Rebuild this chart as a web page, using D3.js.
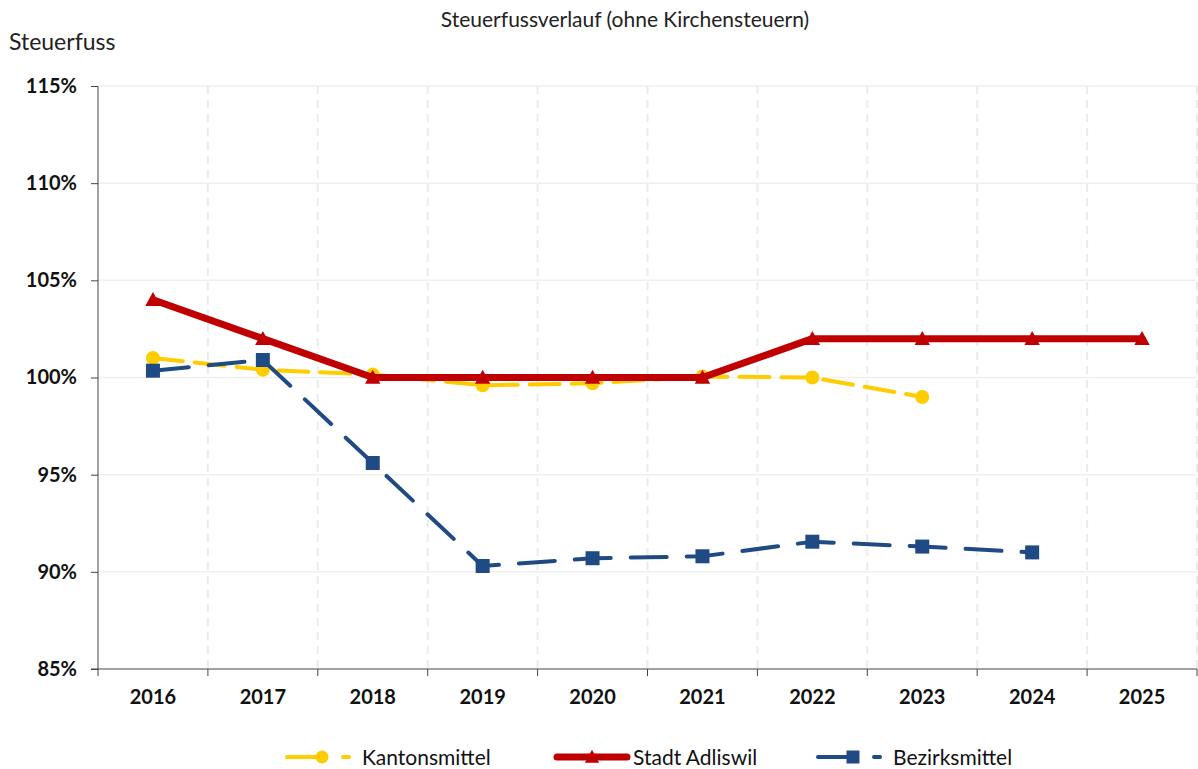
<!DOCTYPE html>
<html>
<head>
<meta charset="utf-8">
<script src="https://cdn.jsdelivr.net/npm/d3@7"></script>
<style>
  body { margin: 0; background: #fff; }
  svg, svg text { font-family: "Lato", "Open Sans", sans-serif; }
</style>
</head>
<body>
<div id="chart"></div>
<script>
// Data
const years = ["2016", "2017", "2018", "2019", "2020", "2021", "2022", "2023", "2024", "2025"];
const kantonsmittel = [101.0, 100.4, 100.15, 99.6, 99.7, 100.05, 100.0, 99.0, null, null];
const stadtAdliswil = [104, 102, 100, 100, 100, 100, 102, 102, 102, 102];
const bezirksmittel = [100.35, 100.9, 95.6, 90.3, 90.7, 90.8, 91.55, 91.3, 91.0, null];
const yTicks = [85, 90, 95, 100, 105, 110, 115];

const series = [
    { name: "Kantonsmittel", values: kantonsmittel, color: "#FFCC00", width: 4, dash: "30,12", marker: "circle" },
    { name: "Stadt Adliswil", values: stadtAdliswil, color: "#C00000", width: 7, dash: null, marker: "triangle" },
    { name: "Bezirksmittel", values: bezirksmittel, color: "#1F4A84", width: 4, dash: "36,20", marker: "square" }
];

const W = 1198, H = 769;
const margin = { top: 86, right: 1, bottom: 100, left: 98 };
const width = W - margin.left - margin.right;
const height = H - margin.top - margin.bottom;

const svg = d3.select("#chart")
    .append("svg")
    .attr("width", W)
    .attr("height", H);

const g = svg.append("g")
    .attr("transform", `translate(${margin.left},${margin.top})`);

const x = d3.scaleBand()
    .domain(years)
    .range([0, width]);

const y = d3.scaleLinear()
    .domain([85, 115])
    .range([height, 0]);

// Horizontal gridlines
g.selectAll(".hgrid")
    .data(yTicks.slice(1))
    .enter()
    .append("line")
    .attr("x1", 0)
    .attr("x2", width)
    .attr("y1", d => y(d))
    .attr("y2", d => y(d))
    .attr("stroke", "#EFEFEF")
    .attr("stroke-width", 1.5);

// Vertical dashed gridlines at category borders
g.selectAll(".vgrid")
    .data(years.slice(1).concat(["end"]))
    .enter()
    .append("line")
    .attr("x1", (d, i) => x.step() * (i + 1))
    .attr("x2", (d, i) => x.step() * (i + 1))
    .attr("y1", 0)
    .attr("y2", height)
    .attr("stroke", "#EBEBEB")
    .attr("stroke-width", 2)
    .attr("stroke-dasharray", "8,6");

// Y-axis
const yAxis = g.append("g")
    .call(d3.axisLeft(y)
        .tickValues(yTicks)
        .tickSize(7)
        .tickPadding(14)
        .tickFormat(d => `${d}%`));
yAxis.attr("font-family", null);
yAxis.select(".domain").attr("stroke", "#444").attr("d", `M-7,0.5H0V${height}`);
yAxis.selectAll(".tick line").attr("stroke", "#444");
yAxis.selectAll("text")
    .attr("font-size", 20)
    .attr("font-weight", "bold")
    .attr("fill", "#111");

// X-axis: ticks at category borders
const xAxis = g.append("g")
    .attr("transform", `translate(0,${height})`);
xAxis.append("line")
    .attr("x1", -7).attr("x2", width)
    .attr("stroke", "#444");
xAxis.selectAll(".xtick")
    .data(d3.range(years.length + 1))
    .enter()
    .append("line")
    .attr("x1", d => x.step() * d)
    .attr("x2", d => x.step() * d)
    .attr("y1", 0)
    .attr("y2", 7)
    .attr("stroke", "#444");
xAxis.selectAll("text")
    .data(years)
    .enter()
    .append("text")
    .attr("x", d => x(d) + x.bandwidth() / 2)
    .attr("y", 35)
    .attr("text-anchor", "middle")
    .attr("font-size", 20)
    .attr("font-weight", "bold")
    .attr("fill", "#111")
    .text(d => d);

const cx = d => x(d) + x.bandwidth() / 2;

function drawMarker(sel, type, color, size) {
    if (type === "circle") {
        sel.append("circle").attr("r", size / 2).attr("fill", color);
    } else if (type === "triangle") {
        sel.append("path")
            .attr("d", `M0,${-size * 0.55}L${size * 0.55},${size * 0.45}L${-size * 0.55},${size * 0.45}Z`)
            .attr("fill", color);
    } else {
        sel.append("rect")
            .attr("x", -size / 2).attr("y", -size / 2)
            .attr("width", size).attr("height", size)
            .attr("fill", color);
    }
}

// Lines and markers
series.forEach(s => {
    const pts = years.map((yr, i) => ({ yr, v: s.values[i] })).filter(d => d.v !== null);
    const line = d3.line()
        .x(d => cx(d.yr))
        .y(d => y(d.v));
    g.append("path")
        .datum(pts)
        .attr("d", line)
        .attr("fill", "none")
        .attr("stroke", s.color)
        .attr("stroke-width", s.width)
        .attr("stroke-linecap", "round")
        .attr("stroke-linejoin", "round")
        .attr("stroke-dasharray", s.dash);
    pts.forEach(d => {
        const m = g.append("g").attr("transform", `translate(${cx(d.yr)},${y(d.v)})`);
        drawMarker(m, s.marker, s.color, 14);
    });
});

// Title and axis label
svg.append("text")
    .attr("x", 625)
    .attr("y", 27)
    .attr("text-anchor", "middle")
    .attr("font-size", 21)
    .attr("fill", "#222")
    .text("Steuerfussverlauf (ohne Kirchensteuern)");

svg.append("text")
    .attr("x", 9)
    .attr("y", 50)
    .attr("font-size", 23)
    .attr("fill", "#222")
    .text("Steuerfuss");

// Legend
const legendX = [287, 555, 818];
const legend = svg.append("g");
series.forEach((s, i) => {
    const lg = legend.append("g").attr("transform", `translate(${legendX[i]},757)`);
    if (s.dash) {
        lg.append("line").attr("x1", 0).attr("x2", 30)
            .attr("stroke", s.color).attr("stroke-width", s.width).attr("stroke-linecap", "round");
        lg.append("line").attr("x1", 56).attr("x2", 62)
            .attr("stroke", s.color).attr("stroke-width", s.width).attr("stroke-linecap", "round");
        const m = lg.append("g").attr("transform", "translate(35,0)");
        drawMarker(m, s.marker, s.color, 13);
    } else {
        lg.append("line").attr("x1", 2).attr("x2", 72)
            .attr("stroke", s.color).attr("stroke-width", s.width).attr("stroke-linecap", "round");
        const m = lg.append("g").attr("transform", "translate(37,0)");
        drawMarker(m, s.marker, s.color, 13);
    }
    lg.append("text")
        .attr("x", s.dash ? 75 : 78)
        .attr("y", 8)
        .attr("font-size", 21)
        .attr("fill", "#111")
        .text(s.name);
});
</script>
</body>
</html>
